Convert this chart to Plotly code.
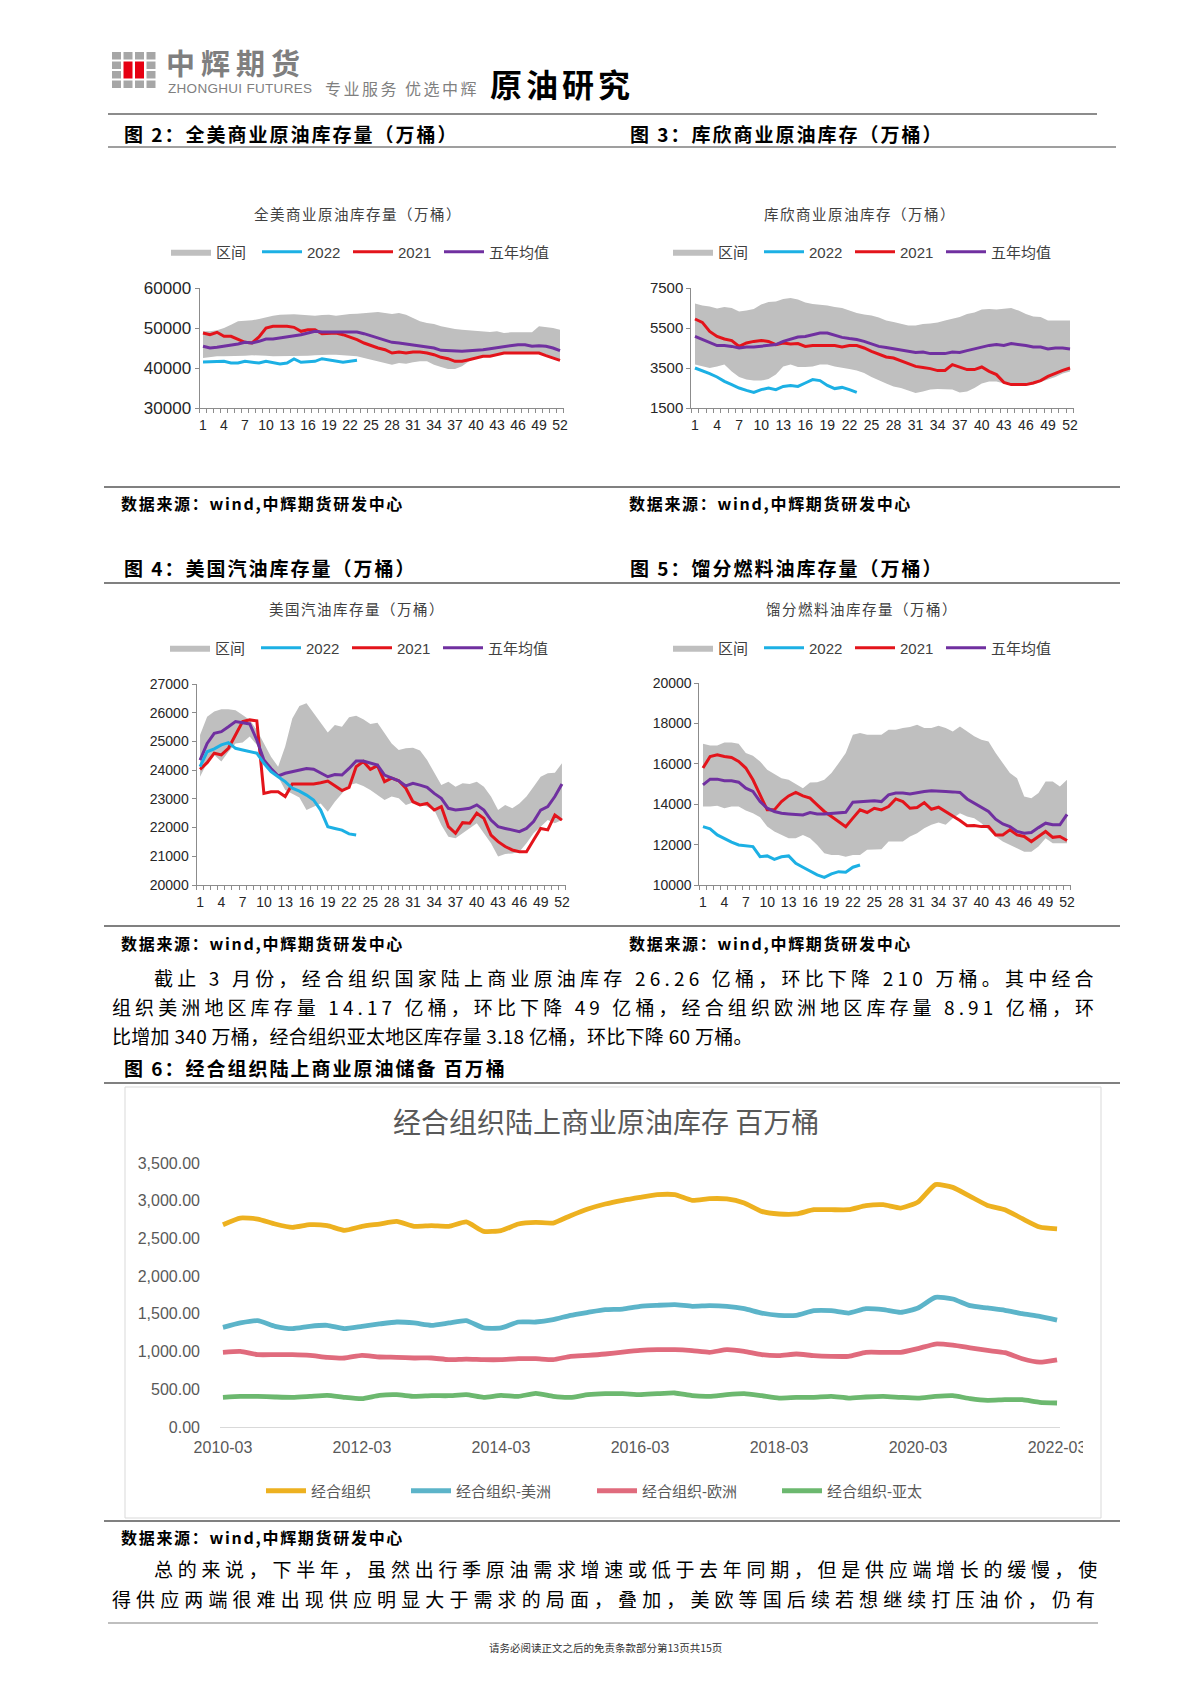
import plotly.graph_objects as go

W, H = 1190, 1683
def fx(p): return p / W
def fy(p): return 1 - p / H

CJK = "Noto Sans CJK SC"
LAT = "Liberation Sans, Noto Sans CJK SC"

# ---------------- data ----------------
weeks = list(range(1, 53))
weeks_2022 = list(range(1, 24))
week_ticks = list(range(1, 53, 3))

# Fig 2: US commercial crude inventory (10k bbl)
us_crude_upper = [49170,49170,49420,50000,50830,51670,51830,51920,52250,52750,53080,53330,53420,53420,53330,53170,53080,53250,53330,53080,53330,53500,53580,53750,53920,54000,53750,53500,53750,53330,52500,51670,51250,51000,50420,50000,49750,49580,49420,49330,49170,49000,49170,48750,48920,48920,48920,48920,50420,50250,50000,49580]
us_crude_lower = [42500,42750,42920,42920,42920,43080,43080,43170,43170,43080,42920,42920,42920,43080,43080,43080,43170,43330,43330,43330,43170,43080,42920,42500,42080,41670,41250,40830,41250,41080,41420,41670,41670,40830,40250,39750,39750,40420,41670,42500,42920,42920,43330,43750,43750,43750,43750,43750,43750,43080,42500,41920]
us_crude_2021 = [48750,48330,48920,47920,47920,47250,46420,46250,47750,50000,50420,50420,50420,50170,49170,49580,49580,48580,48580,48750,48330,47750,47080,46250,45580,45000,44580,43750,44000,43750,44000,44000,43750,43330,42670,42330,41670,41670,42080,42500,42920,42920,43330,43750,43750,43750,43750,43750,43750,43080,42500,41920]
us_crude_avg = [45420,45000,45170,45420,45670,46000,46420,46250,46670,47250,47250,47500,47750,48080,48330,48750,49170,49000,49000,49000,49000,49000,49000,48580,48080,47500,46920,46420,46250,46000,45750,45580,45420,45000,44420,44330,44170,44170,44330,44420,44580,44830,45080,45420,45670,45830,45830,45420,45580,45420,45000,44330]
us_crude_2022 = [41500,41500,41670,41670,41250,41250,41670,41420,41250,41670,41250,41000,41250,42250,41420,41500,41670,42330,42080,41830,41420,41670,41920]

# Fig 3: Cushing crude inventory
cushing_upper = [6720,6620,6580,6470,6550,6500,6330,6370,6450,6670,6800,6830,6950,7000,6920,6780,6700,6670,6630,6550,6500,6380,6250,6170,6130,6030,5880,5800,5720,5620,5630,5700,5720,5780,5880,5950,6050,6200,6280,6420,6450,6420,6450,6500,6370,6200,6080,6050,5880,5880,5880,5880]
cushing_lower = [3670,3580,3500,3580,3670,3330,3050,2920,2870,2870,2950,3170,3580,3670,3550,3550,3580,3670,3670,3580,3530,3450,3380,3250,3050,2870,2720,2580,2500,2380,2250,2330,2420,2450,2450,2420,2280,2330,2500,2720,2830,2830,2720,2620,2620,2620,2670,2780,2920,3050,3220,3330]
cushing_2021 = [5950,5780,5330,5080,4950,4870,4580,4750,4830,4880,4830,4670,4750,4700,4720,4580,4630,4630,4620,4620,4550,4620,4620,4500,4330,4170,4050,4000,3870,3720,3580,3530,3470,3370,3380,3670,3550,3420,3420,3550,3330,3170,2780,2670,2670,2670,2750,2870,3080,3250,3380,3500]
cushing_avg = [5080,4920,4750,4620,4620,4580,4500,4550,4550,4580,4630,4670,4830,4950,5050,5080,5170,5250,5250,5130,5030,4970,4920,4830,4700,4580,4530,4470,4380,4330,4280,4300,4220,4220,4220,4300,4280,4370,4450,4550,4630,4670,4630,4720,4680,4620,4550,4550,4450,4500,4500,4450]
cushing_2022 = [3500,3370,3220,3050,2830,2670,2500,2380,2280,2420,2500,2420,2580,2630,2580,2750,2920,2870,2630,2470,2530,2420,2280]

# Fig 4: US gasoline inventory
gas_upper = [25220,25860,26040,26120,26120,26090,25920,25750,25400,24930,24470,24120,24820,25800,26230,26330,25980,25630,25310,25570,25510,25840,25890,25770,25610,25650,25280,24930,24700,24760,24780,24680,24350,23890,23480,23600,23420,23540,23520,23600,23420,23080,22610,22790,22670,22840,23080,23420,23770,23890,23910,24240]
gas_lower = [23770,24260,24530,24300,24640,24930,24960,25170,24880,24410,24000,23770,23310,23190,23050,22610,22730,22840,22550,22900,23190,23480,23540,23450,23310,23130,22960,23080,23020,22790,22870,22840,22730,22610,22090,21680,21630,21800,21970,22150,21800,21450,20990,21080,21100,21160,21450,21800,22030,22260,22150,22260]
gas_2021 = [24030,24260,24590,24530,24760,25220,25690,25750,25720,23190,23250,23250,23080,23520,23520,23520,23520,23560,23620,23460,23290,23400,24120,24300,24030,24160,23600,23720,23630,23370,22900,22790,22840,22610,22730,22030,21800,22170,22150,22500,22320,21740,21510,21340,21220,21160,21160,21570,21970,21920,22440,22260]
gas_avg = [24350,24930,25280,25340,25510,25690,25650,25610,25050,24350,24060,23800,23890,23950,24010,24060,24030,23910,23770,23850,23830,24060,24320,24320,24240,24180,23830,23720,23630,23450,23540,23480,23400,23190,23020,22670,22610,22640,22670,22790,22610,22260,22030,21970,21910,21860,21970,22210,22610,22730,23080,23520]
gas_2022 = [24120,24640,24740,24880,24960,24760,24700,24640,24590,24240,23950,23770,23600,23370,23270,23130,22960,22610,22030,21970,21910,21780,21740]

# Fig 5: distillate fuel oil inventory
dist_upper = [16990,16910,16910,17060,17060,16990,16530,16400,16120,15700,15500,15290,15210,15010,14790,15070,15090,15210,15540,16030,16530,17440,17520,17440,17440,17440,17690,17690,17770,17820,17930,17770,17770,17880,17770,17600,17850,17600,17360,17190,17110,16530,16030,15540,15290,14380,14300,14550,15120,15120,14880,15210]
dist_lower = [13880,13880,13920,13800,13880,13880,13690,13550,13360,12890,12650,12480,12310,12310,12480,12310,11980,11570,11490,11490,11400,11490,11490,11740,11770,11770,12150,12150,12150,12400,12560,12810,12980,13090,12980,13310,13550,13390,13310,13060,12730,12400,12150,11980,11820,11650,11650,11900,12310,12070,12070,12070]
dist_2021 = [15790,16360,16450,16360,16310,16120,15790,15210,14460,13720,13720,14130,14410,14580,14410,14300,13970,13640,13390,13140,12890,13310,13720,13590,13800,13720,13880,14260,14130,13800,13840,14080,13750,13850,13640,13390,13190,12930,12940,12890,12890,12480,12480,12730,12480,12400,12150,12400,12650,12360,12400,12200]
dist_avg = [14960,15240,15240,15160,15160,15090,14790,14630,14130,13800,13640,13550,13520,13500,13470,13590,13520,13520,13550,13550,13600,14100,14130,14170,14170,14130,14460,14550,14550,14500,14580,14630,14660,14660,14630,14610,14580,14260,14050,13850,13640,13260,13020,12890,12650,12560,12600,12840,13060,12980,12980,13500]
dist_2022 = [12890,12780,12480,12280,12120,11980,11950,11900,11400,11440,11270,11400,11440,11070,10880,10690,10500,10380,10550,10660,10630,10880,10990]

# Fig 6: OECD onshore commercial crude stocks (million bbl), quarterly
quarters = ["2010-03","2010-06","2010-09","2010-12","2011-03","2011-06","2011-09","2011-12",
            "2012-03","2012-06","2012-09","2012-12","2013-03","2013-06","2013-09","2013-12",
            "2014-03","2014-06","2014-09","2014-12","2015-03","2015-06","2015-09","2015-12",
            "2016-03","2016-06","2016-09","2016-12","2017-03","2017-06","2017-09","2017-12",
            "2018-03","2018-06","2018-09","2018-12","2019-03","2019-06","2019-09","2019-12",
            "2020-03","2020-06","2020-09","2020-12","2021-03","2021-06","2021-09","2021-12",
            "2022-03"]
quarter_ticks = ["2010-03","2012-03","2014-03","2016-03","2018-03","2020-03","2022-03"]
oecd_total = [2682,2770,2757,2691,2647,2682,2669,2607,2660,2691,2726,2660,2669,2660,2718,2594,2603,2691,2713,2704,2802,2890,2956,3005,3045,3080,3080,3005,3027,3023,2969,2859,2824,2824,2881,2881,2881,2934,2947,2903,2983,3213,3177,3058,2938,2881,2762,2651,2626]
oecd_americas = [1321,1379,1410,1335,1304,1335,1348,1304,1335,1366,1392,1379,1348,1379,1410,1313,1313,1392,1392,1423,1481,1520,1556,1564,1600,1613,1622,1600,1609,1600,1569,1511,1481,1481,1542,1542,1511,1569,1556,1520,1578,1719,1697,1609,1578,1547,1502,1467,1417]
oecd_europe = [990,1003,959,959,959,950,924,915,950,928,924,915,915,893,901,893,893,906,906,893,937,950,968,994,1016,1025,1025,1012,990,1025,1003,959,946,968,946,937,937,990,990,990,1040,1100,1085,1050,1015,985,905,860,891]
oecd_asia = [393,406,406,398,393,406,420,393,376,420,429,406,415,415,429,393,420,406,446,406,393,429,442,442,429,442,451,415,406,429,442,415,384,393,393,406,384,398,406,393,384,406,415,376,354,362,362,327,318]

# ---------------- styles ----------------
BAND = "#bfbfbf"
C2022 = "#1cb0e4"
C2021 = "#e3141b"
CAVG = "#7030a0"
AXC = "#8c8c8c"

fig = go.Figure()

def add_weekly(n, upper, lower, y2021, avg, y2022, legend):
    xa, ya = "x" + n, "y" + n
    fig.add_trace(go.Scatter(x=weeks, y=lower, mode="lines", line=dict(width=0, color=BAND),
                             showlegend=False, hoverinfo="skip", xaxis=xa, yaxis=ya, legend=legend))
    fig.add_trace(go.Scatter(x=weeks, y=upper, mode="lines", line=dict(width=0, color=BAND),
                             fill="tonexty", fillcolor=BAND, name="区间", legendrank=1,
                             xaxis=xa, yaxis=ya, legend=legend))
    fig.add_trace(go.Scatter(x=weeks, y=y2021, mode="lines", line=dict(width=3, color=C2021),
                             name="2021", legendrank=3, xaxis=xa, yaxis=ya, legend=legend))
    fig.add_trace(go.Scatter(x=weeks, y=avg, mode="lines", line=dict(width=3, color=CAVG),
                             name="五年均值", legendrank=4, legendwidth=70,
                             xaxis=xa, yaxis=ya, legend=legend))
    fig.add_trace(go.Scatter(x=weeks_2022, y=y2022, mode="lines", line=dict(width=3, color=C2022),
                             name="2022", legendrank=2, xaxis=xa, yaxis=ya, legend=legend))

add_weekly("", us_crude_upper, us_crude_lower, us_crude_2021, us_crude_avg, us_crude_2022, "legend")
add_weekly("2", cushing_upper, cushing_lower, cushing_2021, cushing_avg, cushing_2022, "legend2")
add_weekly("3", gas_upper, gas_lower, gas_2021, gas_avg, gas_2022, "legend3")
add_weekly("4", dist_upper, dist_lower, dist_2021, dist_avg, dist_2022, "legend4")

oecd_series = [("经合组织", oecd_total, "#edb120", 90),
               ("经合组织-美洲", oecd_americas, "#5cb4c9", 131),
               ("经合组织-欧洲", oecd_europe, "#e06b7d", 130),
               ("经合组织-亚太", oecd_asia, "#6cb86f", 110)]
for name, vals, col, lw in oecd_series:
    fig.add_trace(go.Scatter(x=quarters, y=vals, mode="lines", name=name, legendwidth=lw,
                             line=dict(width=4.8, color=col, shape="spline", smoothing=0.5),
                             xaxis="x5", yaxis="y5", legend="legend5"))

def weekly_axes(n, x0, x1, y0, y1, yrange, ytickvals, ysize):
    fig.layout["xaxis" + n] = dict(
        domain=[fx(x0), fx(x1)], range=[0.5, 52.5], anchor="y" + n, automargin=False,
        tickmode="array", tickvals=week_ticks, ticks="", showline=True, linecolor=AXC,
        linewidth=1, showgrid=False, zeroline=False, ticklabelstandoff=4,
        tickfont=dict(family=LAT, size=14, color="#262626"),
        minor=dict(tickmode="linear", tick0=0.5, dtick=1, ticks="outside", ticklen=4,
                   tickcolor=AXC, showgrid=False),
        fixedrange=True)
    fig.layout["yaxis" + n] = dict(
        domain=[fy(y1), fy(y0)], range=yrange, anchor="x" + n, automargin=False,
        tickmode="array", tickvals=ytickvals, tickformat="d", ticks="outside", ticklen=4,
        tickcolor=AXC, showline=True, linecolor=AXC, linewidth=1, showgrid=False,
        zeroline=False, tickfont=dict(family=LAT, size=ysize, color="#262626"),
        fixedrange=True)

weekly_axes("", 199.5, 563.5, 288, 408, [30000, 60000], [30000, 40000, 50000, 60000], 17)
weekly_axes("2", 691.3, 1073.7, 288, 408, [1500, 7500], [1500, 3500, 5500, 7500], 15)
weekly_axes("3", 196.5, 565.5, 684, 885, [20000, 27000], list(range(20000, 27001, 1000)), 14)
weekly_axes("4", 699.4, 1070.6, 683, 885, [10000, 20000], list(range(10000, 20001, 2000)), 14)

fig.layout["xaxis5"] = dict(domain=[fx(220), fx(1060)], range=[-0.17, 48.17], anchor="y5",
                            type="category", tickmode="array", tickvals=quarter_ticks,
                            automargin=False, ticks="", showline=True, linecolor="#d9d9d9",
                            linewidth=1, showgrid=False, zeroline=False, ticklabelstandoff=6,
                            tickfont=dict(family=LAT, size=16, color="#595959"), fixedrange=True)
fig.layout["yaxis5"] = dict(domain=[fy(1427), fy(1163)], range=[0, 3500], anchor="x5",
                            tickmode="array", tickvals=[0, 500, 1000, 1500, 2000, 2500, 3000, 3500],
                            automargin=False, tickformat=",.2f", ticks="", showline=False,
                            showgrid=False, zeroline=False, ticklabelstandoff=19,
                            tickfont=dict(family=LAT, size=16, color="#595959"), fixedrange=True)

def legend_cfg(x, y, color="#404040", size=15, ew=36):
    d = dict(orientation="h", x=fx(x), y=fy(y), xanchor="left", yanchor="middle",
             itemwidth=40, font=dict(family=LAT, size=size, color=color),
             bgcolor="rgba(0,0,0,0)", borderwidth=0, traceorder="normal", itemclick=False)
    if ew:
        d["entrywidth"] = ew
        d["entrywidthmode"] = "pixels"
    return d

fig.update_layout(
    width=W, height=H, margin=dict(l=0, r=0, t=0, b=0, pad=0, autoexpand=False),
    paper_bgcolor="white", plot_bgcolor="rgba(0,0,0,0)", showlegend=True,
    legend=legend_cfg(166, 252), legend2=legend_cfg(668, 252),
    legend3=legend_cfg(165, 648), legend4=legend_cfg(668, 648),
    legend5=legend_cfg(261, 1491, color="#595959", ew=None),
)

# ---------------- shapes ----------------
shapes = []
def hline(y, x0, x1, color="#808080", width=2):
    shapes.append(dict(type="line", xref="paper", yref="paper", x0=fx(x0), x1=fx(x1),
                       y0=fy(y), y1=fy(y), line=dict(color=color, width=width)))
def rect(x0, y0, x1, y1, fill, line=None, layer="below"):
    shapes.append(dict(type="rect", xref="paper", yref="paper", x0=fx(x0), x1=fx(x1),
                       y0=fy(y1), y1=fy(y0), fillcolor=fill, layer=layer,
                       line=dict(width=1 if line else 0, color=line or fill)))

hline(114, 108, 1097, "#1a1a1a", 1.2)
hline(147, 108, 1116, "#404040", 1.2)
hline(487, 104, 1120)
hline(583, 104, 1120)
hline(926, 104, 1120)
hline(1083, 104, 1120)
hline(1521, 104, 1120)
hline(1623, 108, 1098, "#808080", 1.2)

# chart 6 frame
rect(125, 1087, 1101, 1518, "rgba(0,0,0,0)", line="#d9d9d9")
# clip last category label (as in the source chart)
rect(1083, 1438, 1099, 1466, "white", layer="above")

# logo blocks
cols = [112, 123.5, 135, 146.5]
rows = [52, 61.5, 71, 80.5]
for ci, cx in enumerate(cols):
    for ri, ry in enumerate(rows):
        if ci in (1, 2) and ri in (1, 2):
            continue
        rect(cx, ry, cx + 9, ry + 7.5, "#a6a6a6")
for cx in (123.5, 135):
    rect(cx, 61.5, cx + 9, 78.5, "#e60012")
fig.update_layout(shapes=shapes)

# ---------------- text ----------------
anns = []
def txt(x, y, s, size, color="#000000", bold=False, family=CJK, xanchor="left", ls=None):
    if ls:
        s = '<span style="letter-spacing:%spx">%s</span>' % (ls, s)
    anns.append(dict(x=fx(x), y=fy(y), xref="paper", yref="paper", text=s, showarrow=False,
                     xanchor=xanchor, yanchor="middle",
                     font=dict(family=family, size=size, color=color,
                               weight="bold" if bold else "normal")))

# header
txt(164, 62, "中辉期货", 29, "#7f7f7f", bold=True, ls=6)
txt(166, 88, "ZHONGHUI FUTURES", 13.5, "#7f7f7f", family=LAT, ls=0.3)
txt(323, 88, "专业服务 优选中辉", 16, "#7f7f7f", ls=2.5)
txt(488, 83, "原油研究", 32, "#000000", bold=True, ls=4)

# figure headings
heads = [(122, 133, "图 2：全美商业原油库存量（万桶）"), (628, 133, "图 3：库欣商业原油库存（万桶）"),
         (122, 567, "图 4：美国汽油库存量（万桶）"), (628, 567, "图 5：馏分燃料油库存量（万桶）"),
         (122, 1067, "图 6：经合组织陆上商业原油储备 百万桶")]
for x, y, s in heads:
    txt(x, y, s, 19, "#000000", bold=True, ls=2)

# chart titles
for x, y, s in [(358, 213, "全美商业原油库存量（万桶）"), (860, 213, "库欣商业原油库存（万桶）"),
                (357, 608, "美国汽油库存量（万桶）"), (862, 608, "馏分燃料油库存量（万桶）")]:
    txt(x, y, s, 14.5, "#404040", xanchor="center", ls=1.5)
txt(606, 1121, "经合组织陆上商业原油库存 百万桶", 28, "#595959", xanchor="center")

# sources
src = "数据来源：wind,中辉期货研发中心"
for x, y in [(119, 503), (627, 503), (119, 943), (627, 943), (119, 1537)]:
    txt(x, y, src, 16, "#000000", bold=True, ls=1.7)

# paragraphs
para1 = ["截止 3 月份，经合组织国家陆上商业原油库存 26.26 亿桶，环比下降 210 万桶。其中经合",
         "组织美洲地区库存量 14.17 亿桶，环比下降 49 亿桶，经合组织欧洲地区库存量 8.91 亿桶，环",
         "比增加 340 万桶，经合组织亚太地区库存量 3.18 亿桶，环比下降 60 万桶。"]
para2 = ["总的来说，下半年，虽然出行季原油需求增速或低于去年同期，但是供应端增长的缓慢，使",
         "得供应两端很难出现供应明显大于需求的局面，叠加，美欧等国后续若想继续打压油价，仍有"]
txt(152, 977, para1[0], 19, ls=4.2)
txt(110, 1006, para1[1], 19, ls=4.1)
txt(110, 1035, para1[2], 19, ls=0.3)
txt(152, 1568, para2[0], 19, ls=4.7)
txt(110, 1598, para2[1], 19, ls=5.1)

txt(605, 1647, "请务必阅读正文之后的免责条款部分第13页共15页", 10.5, "#333333", xanchor="center")

fig.update_layout(annotations=anns)

fig.write_html("out.html", config={"displayModeBar": False},
               post_script="document.body.style.margin='0';document.body.style.overflow='hidden';")
